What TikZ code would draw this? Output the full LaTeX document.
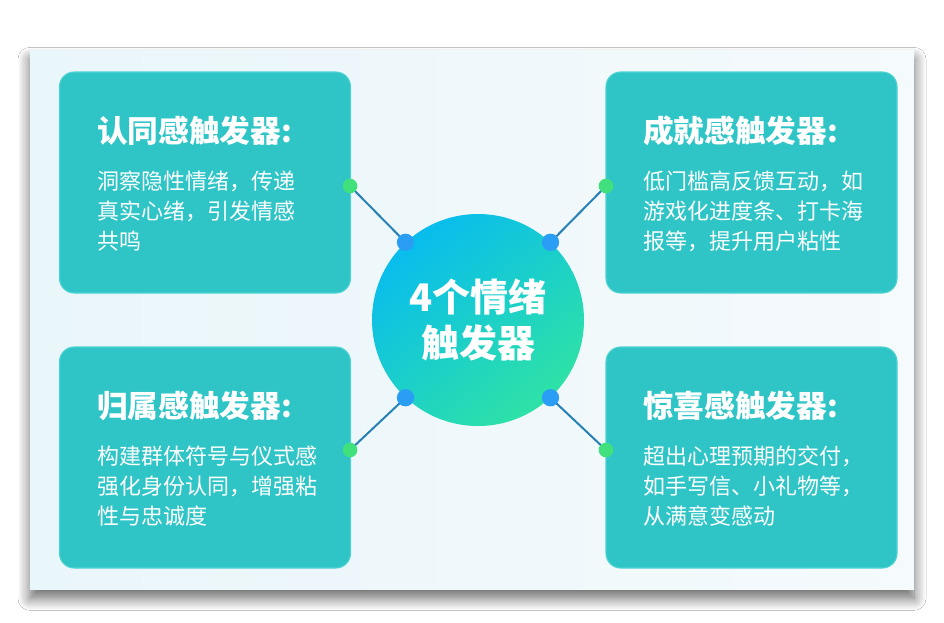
\documentclass[tikz,border=0pt]{standalone}
\usepackage{fontspec}
\setmainfont{Noto Sans CJK SC}
\usetikzlibrary{shadows.blur}
\definecolor{cardA}{HTML}{E9F6FA}
\definecolor{cardB}{HTML}{F5FAFC}
\definecolor{teal}{HTML}{2FC5C7}
\definecolor{tealedge}{HTML}{4FD3D3}
\definecolor{cblue}{HTML}{0FA6F4}
\definecolor{cgreen}{HTML}{2EE2A6}
\definecolor{ccyan}{HTML}{08BCEE}
\definecolor{dotblue}{HTML}{2A9EF4}
\definecolor{dotgreen}{HTML}{40E07C}
\definecolor{link}{HTML}{2780B6}
\tikzset{
  card/.style={draw=none, left color=cardA, right color=cardB,
    blur shadow={shadow xshift=0pt, shadow yshift=-7pt, shadow blur radius=9pt, shadow opacity=60, shadow blur steps=12}},
  tbox/.style={draw=tealedge, line width=0.8pt, fill=teal, rounded corners=11pt,
    minimum width=218.25pt, minimum height=165.75pt, inner sep=0pt},
  ttl/.style={anchor=west, text=white, inner sep=0pt, font=\fontsize{23}{28}\selectfont\bfseries},
  body/.style={anchor=north west, text=white, inner sep=0pt, align=left,
    font=\fontsize{16.5}{22.5}\selectfont},
  hub/.style={circle, minimum size=159pt, inner sep=0pt, shading=axis,
    top color=ccyan, middle color=cblue!70!ccyan, bottom color=cgreen, shading angle=40,
    text=white, align=center, font=\fontsize{28.5}{35}\selectfont\bfseries},
  bdot/.style={circle, fill=dotblue, minimum size=13pt, inner sep=0pt},
  gdot/.style={circle, fill=dotgreen, minimum size=11pt, inner sep=0pt},
  conn/.style={draw=link, line width=1.5pt}
}
\begin{document}
\begin{tikzpicture}[x=0.75pt, y=-0.75pt]
\useasboundingbox (0,0) rectangle (944,622);
\fill[white] (0,0) rectangle (944,622);
\path[card] (30,50) rectangle (914,589);

\node[tbox] (b1) at (205,182.5) {};
\node[tbox] (b2) at (751.5,182.5) {};
\node[tbox] (b3) at (205,457.5) {};
\node[tbox] (b4) at (751.5,457.5) {};

\node[ttl] (t1) at (97,131) {认同感触发器:};
\node[body] (s1) at (97,171) {洞察隐性情绪，传递\\真实心绪，引发情感\\共鸣};
\node[ttl] (t2) at (643,131) {成就感触发器:};
\node[body] (s2) at (643,171) {低门槛高反馈互动，如\\游戏化进度条、打卡海\\报等，提升用户粘性};
\node[ttl] (t3) at (97,406) {归属感触发器:};
\node[body] (s3) at (97,446) {构建群体符号与仪式感\\强化身份认同，增强粘\\性与忠诚度};
\node[ttl] (t4) at (643,406) {惊喜感触发器:};
\node[body] (s4) at (643,446) {超出心理预期的交付，\\如手写信、小礼物等，\\从满意变感动};

\node[hub] (c) at (478,320) {4个情绪\\触发器};

\coordinate (g1) at (350,186);
\coordinate (g2) at (606,186);
\coordinate (g3) at (350,450);
\coordinate (g4) at (606,450);
\coordinate (k1) at (c.133);
\coordinate (k2) at (c.47);
\coordinate (k3) at (c.227);
\coordinate (k4) at (c.313);

\draw[conn] (g1) -- (k1);
\draw[conn] (g2) -- (k2);
\draw[conn] (g3) -- (k3);
\draw[conn] (g4) -- (k4);

\node[gdot] (gd1) at (g1) {};
\node[gdot] (gd2) at (g2) {};
\node[gdot] (gd3) at (g3) {};
\node[gdot] (gd4) at (g4) {};
\node[bdot] (bd1) at (k1) {};
\node[bdot] (bd2) at (k2) {};
\node[bdot] (bd3) at (k3) {};
\node[bdot] (bd4) at (k4) {};
\end{tikzpicture}
\end{document}
